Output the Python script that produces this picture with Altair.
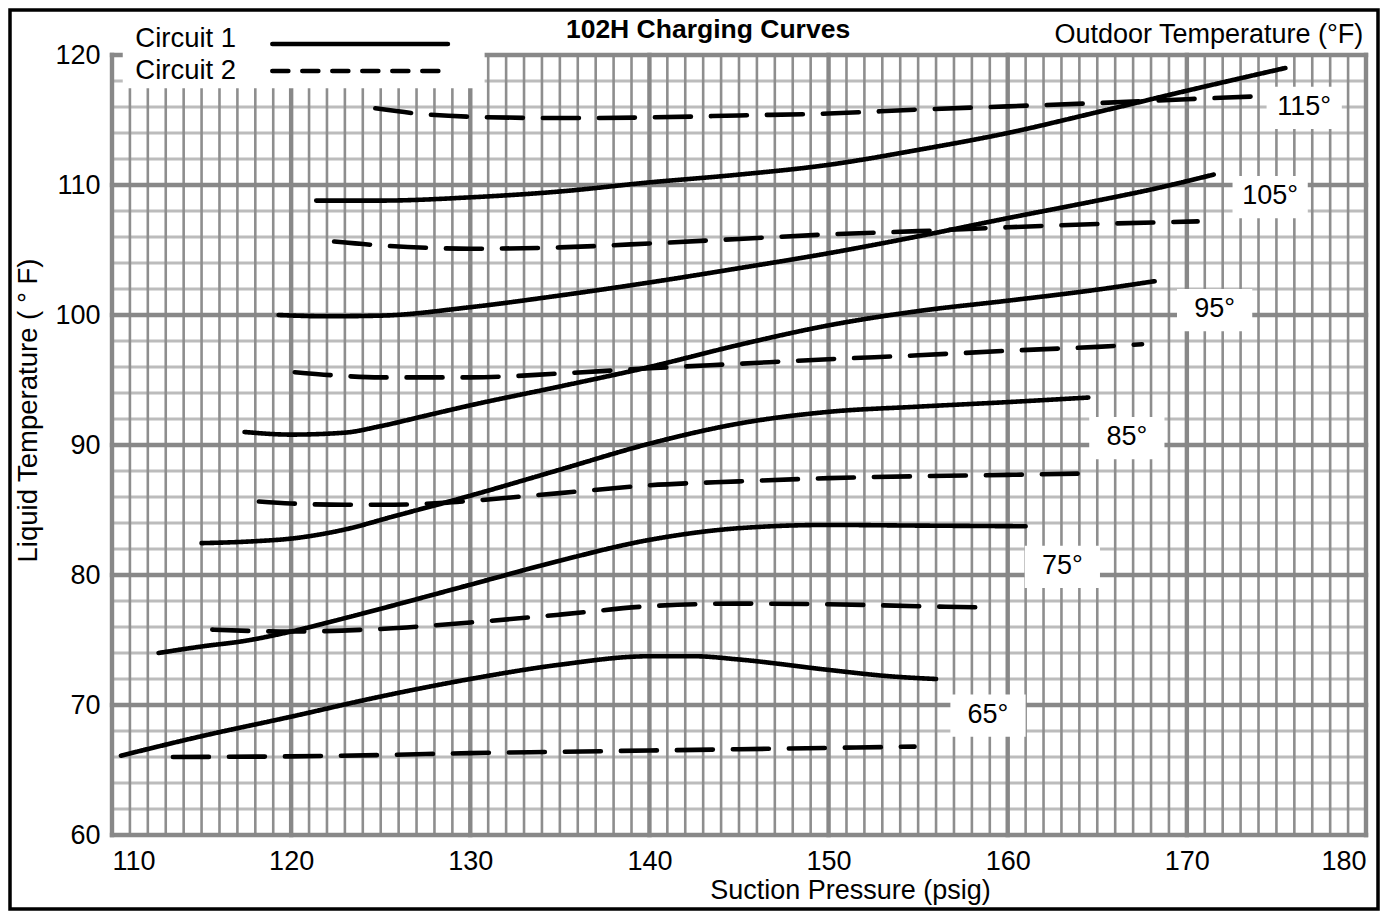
import altair as alt
import pandas as pd

FONT = "Liberation Sans"

# ---------------- axes ----------------
X_MIN, X_MAX = 110, 180
Y_MIN, Y_MAX = 60, 120
x_tick_values = [110, 120, 130, 140, 150, 160, 170, 180]
y_tick_values = [60, 70, 80, 90, 100, 110, 120]
x_minor_step = 1
y_minor_step = 2

chart_title = "102H Charging Curves"
x_title = "Suction Pressure (psig)"
y_title = "Liquid Temperature (  \u00b0 F)"
legend_header = "Outdoor Temperature (\u00b0F)"
circuits = ["Circuit 1", "Circuit 2"]

# ---------------- Circuit 1 (solid) ----------------
c1_115_x = [121.4, 125, 130, 135, 140, 145, 150, 155, 160, 165, 170, 175.5]
c1_115_y = [108.8, 108.8, 109.05, 109.5, 110.2, 110.8, 111.55, 112.7, 114.0, 115.6, 117.25, 119.0]
c1_105_x = [119.3, 122, 125, 130, 135, 140, 145, 150, 155, 160, 165, 168, 171.5]
c1_105_y = [100.0, 99.9, 99.95, 100.6, 101.5, 102.5, 103.6, 104.75, 106.05, 107.45, 108.8, 109.65, 110.8]
c1_95_x = [117.4, 120, 123, 125, 127.5, 130, 135, 140, 145, 150, 155, 160, 165, 168.2]
c1_95_y = [91.0, 90.8, 90.95, 91.45, 92.25, 93.05, 94.5, 96.0, 97.7, 99.2, 100.3, 101.1, 101.95, 102.6]
c1_85_x = [115.0, 118, 120, 123, 125.7, 130, 135, 140, 145, 150, 155, 160, 164.5]
c1_85_y = [82.45, 82.6, 82.8, 83.5, 84.5, 86.1, 88.1, 90.1, 91.65, 92.55, 92.95, 93.3, 93.65]
c1_75_x = [112.6, 115, 117.5, 120, 122.5, 125, 130, 135, 140, 145, 150, 155, 161]
c1_75_y = [74.0, 74.5, 74.95, 75.65, 76.5, 77.4, 79.25, 81.1, 82.7, 83.6, 83.85, 83.8, 83.75]
c1_65_x = [110.5, 115, 120, 125, 130, 135, 140, 142.5, 145, 150, 153.5, 156]
c1_65_y = [66.1, 67.6, 69.1, 70.65, 72.0, 73.1, 73.75, 73.75, 73.5, 72.7, 72.2, 72.0]

# ---------------- Circuit 2 (dashed) ----------------
c2_115_x = [124.7, 127, 130, 135, 140, 145, 150, 155, 160, 165, 170, 173.6]
c2_115_y = [115.9, 115.5, 115.25, 115.15, 115.2, 115.35, 115.5, 115.8, 116.05, 116.3, 116.6, 116.8]
c2_105_x = [122.4, 125, 128, 130, 135, 140, 145, 150, 155, 160, 165, 170.6]
c2_105_y = [105.65, 105.35, 105.15, 105.1, 105.2, 105.5, 105.85, 106.2, 106.45, 106.75, 107.0, 107.2]
c2_95_x = [120.2, 122.5, 125, 130, 135, 140, 145, 150, 155, 160, 165, 167.5]
c2_95_y = [95.6, 95.35, 95.2, 95.2, 95.5, 95.9, 96.25, 96.6, 96.9, 97.25, 97.55, 97.75]
c2_85_x = [118.2, 120, 123, 125, 128.5, 130, 135, 140, 145, 150, 155, 160, 163.9]
c2_85_y = [85.65, 85.5, 85.4, 85.4, 85.55, 85.7, 86.3, 86.9, 87.2, 87.45, 87.6, 87.7, 87.8]
c2_75_x = [115.6, 120, 125, 130, 135, 140, 145, 150, 155, 158.7]
c2_75_y = [75.8, 75.65, 75.85, 76.35, 76.95, 77.6, 77.8, 77.75, 77.6, 77.5]
c2_65_x = [113.4, 120, 125, 130, 135, 140, 145, 150, 154.8]
c2_65_y = [66.0, 66.05, 66.15, 66.3, 66.4, 66.5, 66.6, 66.7, 66.8]

# ---------------- curve labels (outdoor temperature) ----------------
label_text = ["115\u00b0", "105\u00b0", "95\u00b0", "85\u00b0", "75\u00b0", "65\u00b0"]
label_x = [176.55, 174.65, 171.55, 166.65, 163.05, 158.9]
label_y = [115.4, 108.55, 99.85, 90.0, 80.1, 68.65]

# legend (drawn inside the top-left of the plot)
legend_text_x = 111.3
legend_text_y = [120.62, 118.15]
legend_line_x1 = 118.95
legend_line_x2 = 128.75
legend_line_y = [120.85, 118.77]

# positions of the header texts, in data units
title_pos = (143.27, 121.31)
header_pos = (179.85, 120.92)

# ---------------- build tables ----------------
series = [
    ("Circuit 1", "115", c1_115_x, c1_115_y), ("Circuit 1", "105", c1_105_x, c1_105_y),
    ("Circuit 1", "95", c1_95_x, c1_95_y), ("Circuit 1", "85", c1_85_x, c1_85_y),
    ("Circuit 1", "75", c1_75_x, c1_75_y), ("Circuit 1", "65", c1_65_x, c1_65_y),
    ("Circuit 2", "115", c2_115_x, c2_115_y), ("Circuit 2", "105", c2_105_x, c2_105_y),
    ("Circuit 2", "95", c2_95_x, c2_95_y), ("Circuit 2", "85", c2_85_x, c2_85_y),
    ("Circuit 2", "75", c2_75_x, c2_75_y), ("Circuit 2", "65", c2_65_x, c2_65_y),
]
rows = []
for circ, temp, xs, ys in series:
    for i, (xv, yv) in enumerate(zip(xs, ys)):
        rows.append({"circuit": circ, "series": circ + " " + temp, "i": i,
                     "pressure": xv, "liquid": yv})
curves = pd.DataFrame(rows)

BOX_HALF_W = 2.1
BOX_UP = 2.15
BOX_DOWN = 1.1
labels = pd.DataFrame({"text": label_text, "x": label_x, "y": label_y})
labels["bx1"] = labels["x"] - BOX_HALF_W
labels["bx2"] = labels["x"] + BOX_HALF_W
labels["by1"] = labels["y"] + BOX_UP
labels["by2"] = labels["y"] - BOX_DOWN

legend_df = pd.DataFrame({"name": circuits, "tx": legend_text_x, "ty": legend_text_y,
                          "x1": legend_line_x1, "x2": legend_line_x2, "ly": legend_line_y})
legend_box = pd.DataFrame({"x1": [110.6], "x2": [130.8], "y1": [120.3], "y2": [117.45]})

v_minor = pd.DataFrame({"g": [v for v in range(X_MIN, X_MAX + 1, x_minor_step) if v not in x_tick_values]})
v_major = pd.DataFrame({"g": x_tick_values})
h_minor = pd.DataFrame({"g": [v for v in range(Y_MIN, Y_MAX + 1, y_minor_step) if v not in y_tick_values]})
h_major = pd.DataFrame({"g": y_tick_values})
for d in (v_minor, v_major):
    d["lo"], d["hi"] = Y_MIN, Y_MAX
for d in (h_minor, h_major):
    d["lo"], d["hi"] = X_MIN, X_MAX

xscale = alt.Scale(domain=[X_MIN, X_MAX], nice=False, zero=False)
yscale = alt.Scale(domain=[Y_MIN, Y_MAX], nice=False, zero=False)


def vrules(df, color, width):
    return alt.Chart(df).mark_rule(color=color, strokeWidth=width, strokeCap="square").encode(
        x=alt.X("g:Q", scale=xscale, axis=None),
        y=alt.Y("lo:Q", scale=yscale, axis=None), y2="hi:Q")


def hrules(df, color, width):
    return alt.Chart(df).mark_rule(color=color, strokeWidth=width, strokeCap="square").encode(
        y=alt.Y("g:Q", scale=yscale, axis=None),
        x=alt.X("lo:Q", scale=xscale, axis=None), x2="hi:Q")


grid = (hrules(h_minor, "#bcbcbc", 2.8) + vrules(v_minor, "#8e8e8e", 2.6)
        + hrules(h_major, "#888888", 4.4) + vrules(v_major, "#888888", 4.4))

legend_bg = alt.Chart(legend_box).mark_rect(color="white").encode(
    x=alt.X("x1:Q", scale=xscale, axis=None), x2="x2:Q",
    y=alt.Y("y1:Q", scale=yscale, axis=None), y2="y2:Q")

label_bg = alt.Chart(labels).mark_rect(color="white").encode(
    x=alt.X("bx1:Q", scale=xscale, axis=None), x2="bx2:Q",
    y=alt.Y("by1:Q", scale=yscale, axis=None), y2="by2:Q")

x_axis = alt.Axis(values=x_tick_values, title=x_title, grid=False, domain=False, ticks=False,
                  labelFont=FONT, labelFontSize=27, labelColor="black", labelPadding=13,
                  labelFlush=True, titleFont=FONT, titleFontSize=27, titleFontWeight="normal",
                  titleColor="black", titleX=738, titleY=55, titleAlign="center",
                  titleBaseline="middle")
y_axis = alt.Axis(values=y_tick_values, title=y_title, grid=False, domain=False, ticks=False,
                  labelFont=FONT, labelFontSize=27, labelColor="black", labelPadding=12,
                  titleFont=FONT, titleFontSize=27.5, titleFontWeight="normal", titleColor="black",
                  titleAngle=270, titleX=-84, titleY=355, titleAlign="center",
                  titleBaseline="middle")

lines = alt.Chart(curves).mark_line(
    color="black", strokeWidth=4.6, strokeCap="round", strokeJoin="round",
    interpolate="monotone").encode(
    x=alt.X("pressure:Q", scale=xscale, axis=x_axis),
    y=alt.Y("liquid:Q", scale=yscale, axis=y_axis),
    detail="series:N",
    order="i:Q",
    strokeDash=alt.StrokeDash("circuit:N", legend=None,
                              scale=alt.Scale(domain=circuits, range=[[1, 0], [36, 20]])),
)

label_text_layer = alt.Chart(labels).mark_text(
    font=FONT, fontSize=27, color="black", align="center", baseline="alphabetic").encode(
    x=alt.X("x:Q", scale=xscale, axis=None), y=alt.Y("y:Q", scale=yscale, axis=None),
    text="text:N")

legend_solid = alt.Chart(legend_df).transform_filter(alt.datum.name == circuits[0]).mark_rule(
    color="black", strokeWidth=4.6, strokeCap="round").encode(
    x=alt.X("x1:Q", scale=xscale, axis=None), x2="x2:Q",
    y=alt.Y("ly:Q", scale=yscale, axis=None))
legend_dash = alt.Chart(legend_df).transform_filter(alt.datum.name == circuits[1]).mark_rule(
    color="black", strokeWidth=4.6, strokeCap="round", strokeDash=[16, 14]).encode(
    x=alt.X("x1:Q", scale=xscale, axis=None), x2="x2:Q",
    y=alt.Y("ly:Q", scale=yscale, axis=None))
legend_txt = alt.Chart(legend_df).mark_text(
    font=FONT, fontSize=27.5, color="black", align="left", baseline="alphabetic").encode(
    x=alt.X("tx:Q", scale=xscale, axis=None), y=alt.Y("ty:Q", scale=yscale, axis=None),
    text="name:N")

header = alt.Chart(pd.DataFrame({"t": [legend_header], "x": [header_pos[0]],
                                 "y": [header_pos[1]]})).mark_text(
    font=FONT, fontSize=27, color="black", align="right", baseline="alphabetic").encode(
    x=alt.X("x:Q", scale=xscale, axis=None), y=alt.Y("y:Q", scale=yscale, axis=None),
    text="t:N")

title_layer = alt.Chart(pd.DataFrame({"t": [chart_title], "x": [title_pos[0]],
                                      "y": [title_pos[1]]})).mark_text(
    font=FONT, fontSize=26.5, fontWeight="bold", color="black", align="center",
    baseline="alphabetic").encode(
    x=alt.X("x:Q", scale=xscale, axis=None), y=alt.Y("y:Q", scale=yscale, axis=None),
    text="t:N")

border = alt.Chart(pd.DataFrame({"a": [0]})).mark_rect(
    fillOpacity=0, stroke="black", strokeWidth=3.5).encode(
    x=alt.value(-102), x2=alt.value(1266), y=alt.value(-45), y2=alt.value(854))

chart = alt.layer(
    grid, legend_bg, label_bg, lines, label_text_layer,
    legend_solid, legend_dash, legend_txt, header, title_layer, border,
).resolve_axis(
    x="independent", y="independent"
).properties(
    width=1254, height=780,
    padding={"left": 104, "top": 47, "right": 16, "bottom": 77},
    autosize=alt.AutoSizeParams(type="none"),
    background="white",
).configure_view(stroke=None)

chart.save("out.html", embed_options={"renderer": "svg", "actions": False})
